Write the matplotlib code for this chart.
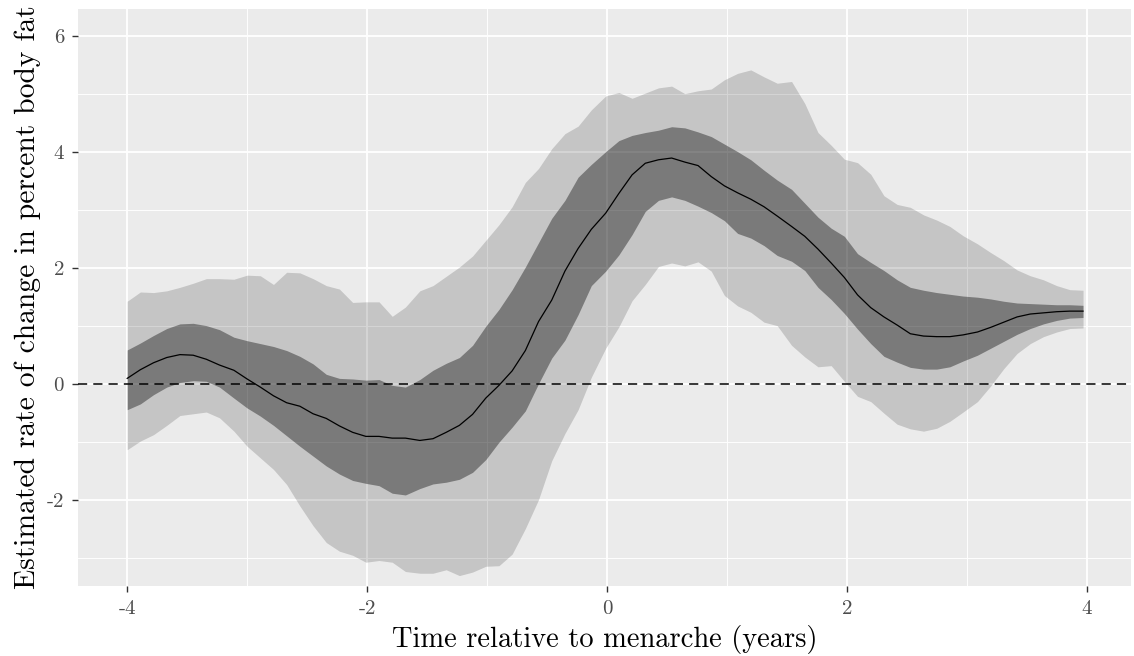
import matplotlib
matplotlib.use("Agg")
import matplotlib.pyplot as plt
from matplotlib.ticker import MultipleLocator

# --- dados ---
tempo = [-4.00, -3.89, -3.78, -3.67, -3.56, -3.45, -3.34, -3.23, -3.11, -3.00,
         -2.89, -2.78, -2.67, -2.56, -2.45, -2.34, -2.23, -2.12, -2.01, -1.90,
         -1.79, -1.68, -1.56, -1.45, -1.34, -1.23, -1.12, -1.01, -0.90, -0.79,
         -0.68, -0.57, -0.46, -0.35, -0.24, -0.13, -0.01, 0.10, 0.21, 0.32,
         0.43, 0.54, 0.65, 0.76, 0.87, 0.98, 1.09, 1.20, 1.31, 1.42,
         1.54, 1.65, 1.76, 1.87, 1.98, 2.09, 2.20, 2.31, 2.42, 2.53,
         2.64, 2.75, 2.86, 2.97, 3.09, 3.20, 3.31, 3.42, 3.53, 3.64,
         3.75, 3.86, 3.97]

media = [0.10, 0.25, 0.37, 0.46, 0.51, 0.50, 0.43, 0.33, 0.24, 0.09,
         -0.05, -0.20, -0.32, -0.38, -0.51, -0.59, -0.72, -0.83, -0.90, -0.90,
         -0.93, -0.93, -0.97, -0.94, -0.83, -0.71, -0.52, -0.24, -0.02, 0.23,
         0.58, 1.08, 1.45, 1.95, 2.34, 2.67, 2.95, 3.29, 3.61, 3.81,
         3.87, 3.90, 3.83, 3.77, 3.58, 3.42, 3.30, 3.19, 3.06, 2.90,
         2.72, 2.55, 2.33, 2.09, 1.84, 1.54, 1.32, 1.16, 1.02, 0.87,
         0.83, 0.82, 0.82, 0.85, 0.90, 0.98, 1.07, 1.16, 1.21, 1.23,
         1.25, 1.26, 1.26]

ic50_sup = [0.59, 0.71, 0.84, 0.96, 1.04, 1.05, 1.01, 0.94, 0.81, 0.75,
            0.70, 0.65, 0.58, 0.48, 0.35, 0.17, 0.10, 0.09, 0.07, 0.08,
            -0.02, -0.05, 0.08, 0.24, 0.36, 0.46, 0.67, 1.00, 1.29, 1.63,
            2.02, 2.44, 2.86, 3.17, 3.57, 3.79, 4.01, 4.20, 4.29, 4.34,
            4.38, 4.44, 4.42, 4.35, 4.27, 4.14, 4.01, 3.87, 3.69, 3.52,
            3.36, 3.12, 2.88, 2.69, 2.55, 2.25, 2.10, 1.96, 1.80, 1.67,
            1.62, 1.58, 1.55, 1.52, 1.50, 1.47, 1.43, 1.40, 1.39, 1.38,
            1.37, 1.37, 1.36]

ic50_inf = [-0.44, -0.34, -0.18, -0.05, 0.03, 0.06, 0.05, -0.05, -0.24, -0.41,
            -0.55, -0.71, -0.89, -1.07, -1.24, -1.41, -1.55, -1.66, -1.71, -1.75,
            -1.88, -1.91, -1.80, -1.72, -1.69, -1.64, -1.52, -1.30, -1.00, -0.74,
            -0.46, 0.01, 0.45, 0.76, 1.20, 1.70, 1.95, 2.23, 2.58, 2.98,
            3.17, 3.23, 3.17, 3.07, 2.96, 2.82, 2.60, 2.52, 2.39, 2.22,
            2.12, 1.96, 1.67, 1.46, 1.22, 0.95, 0.70, 0.48, 0.38, 0.29,
            0.26, 0.26, 0.30, 0.40, 0.50, 0.62, 0.74, 0.86, 0.96, 1.04,
            1.10, 1.14, 1.15]

ic95_sup = [1.43, 1.59, 1.58, 1.61, 1.67, 1.74, 1.82, 1.82, 1.81, 1.88,
            1.87, 1.72, 1.93, 1.92, 1.82, 1.70, 1.64, 1.41, 1.42, 1.42,
            1.17, 1.33, 1.61, 1.70, 1.86, 2.02, 2.21, 2.48, 2.75, 3.06,
            3.48, 3.72, 4.06, 4.32, 4.45, 4.73, 4.97, 5.03, 4.93, 5.02,
            5.11, 5.14, 5.01, 5.06, 5.09, 5.25, 5.36, 5.42, 5.30, 5.19,
            5.22, 4.84, 4.34, 4.12, 3.88, 3.82, 3.62, 3.25, 3.10, 3.05,
            2.92, 2.83, 2.72, 2.56, 2.42, 2.27, 2.13, 1.97, 1.87, 1.80,
            1.70, 1.63, 1.62]

ic95_inf = [-1.13, -0.98, -0.87, -0.71, -0.54, -0.51, -0.48, -0.58, -0.81, -1.07,
            -1.27, -1.47, -1.73, -2.10, -2.44, -2.73, -2.88, -2.95, -3.07, -3.04,
            -3.07, -3.23, -3.26, -3.26, -3.20, -3.30, -3.24, -3.14, -3.13, -2.93,
            -2.49, -1.99, -1.32, -0.85, -0.44, 0.12, 0.62, 0.99, 1.44, 1.72,
            2.03, 2.09, 2.04, 2.11, 1.95, 1.53, 1.35, 1.24, 1.07, 1.01,
            0.67, 0.47, 0.30, 0.32, 0.05, -0.21, -0.30, -0.50, -0.69, -0.77,
            -0.81, -0.76, -0.64, -0.48, -0.30, -0.03, 0.27, 0.53, 0.70, 0.82,
            0.90, 0.96, 0.97]

ticks_x = [-4, -2, 0, 2, 4]
ticks_y = [-2, 0, 2, 4, 6]

# --- grafico ---
plt.rcParams['font.family'] = ['cmr10', 'DejaVu Serif']

fig = plt.figure(figsize=(11.34, 6.56), dpi=100)
ax = fig.add_axes([78 / 1134, 1 - 586 / 656, (1131 - 78) / 1134, 577 / 656])
ax.set_facecolor('#EBEBEB')

ax.fill_between(tempo, ic95_inf, ic95_sup, color='black', alpha=0.16,
                linewidth=0, zorder=2)
ax.fill_between(tempo, ic50_inf, ic50_sup, color='black', alpha=0.38,
                linewidth=0, zorder=3)
ax.axhline(0, color='black', linestyle=(0, (6, 4)), linewidth=1.1, zorder=4)
ax.plot(tempo, media, color='black', linewidth=0.9, zorder=5)

ax.set_xlim(-4.41, 4.37)
ax.set_ylim(-3.48, 6.47)

ax.set_xticks(ticks_x)
ax.set_xticklabels([str(t) for t in ticks_x])
ax.set_yticks(ticks_y)
ax.set_yticklabels([str(t) for t in ticks_y])
ax.xaxis.set_minor_locator(MultipleLocator(1))
ax.yaxis.set_minor_locator(MultipleLocator(1))

ax.grid(True, which='major', color='white', linewidth=1.3, zorder=0)
ax.grid(True, which='minor', color='white', linewidth=0.65, zorder=0)
ax.set_axisbelow(True)

for s in ax.spines.values():
    s.set_visible(False)

ax.tick_params(which='major', length=4, width=1, color='#333333',
               labelcolor='#4D4D4D', labelsize=15, pad=6)
ax.tick_params(which='minor', length=0)

ax.set_xlabel('Time relative to menarche (years)', fontsize=20.5, labelpad=5)
ax.set_ylabel('Estimated rate of change in percent body fat', fontsize=21.3,
              labelpad=4)

fig.savefig('out.png', dpi=100)
